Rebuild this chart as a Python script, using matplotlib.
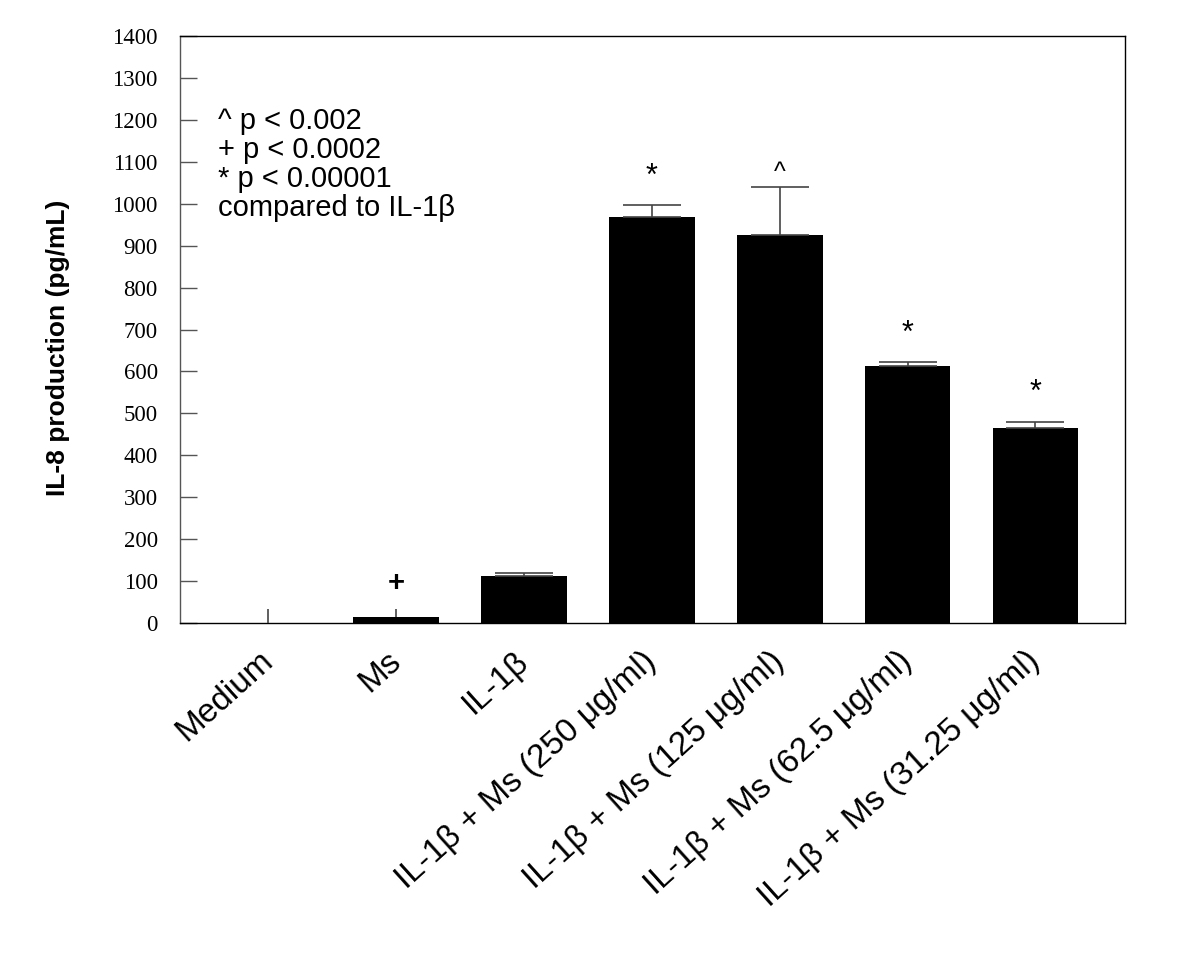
import numpy as np
import matplotlib.pyplot as plt
import matplotlib.transforms as mtransforms

categories = ['Medium', 'Ms', 'IL-1β',
              'IL-1β + Ms (250 μg/ml)', 'IL-1β + Ms (125 μg/ml)',
              'IL-1β + Ms (62.5 μg/ml)', 'IL-1β + Ms (31.25 μg/ml)']
values = [0, 14, 113, 969, 926, 612, 466]
errors = [33, 19, 6, 28, 114, 10, 14]
marks = ['', '+', '', '*', '^', '*', '*']

fig = plt.figure(figsize=(12, 9.6), dpi=100)
ax = fig.add_axes([0.15, 0.351, 0.7875, 0.6115])

x = np.arange(len(categories))
vals = np.array(values)
errs = np.array(errors)
ax.bar(x, vals, width=0.67, color='black', zorder=2)

# first two groups have bare whiskers, the rest have caps
for idx, cap in [(slice(0, 2), 0), (slice(2, None), 21)]:
    ax.errorbar(x[idx], vals[idx], yerr=[np.zeros_like(errs[idx]), errs[idx]],
                fmt='none', ecolor='#444444', elinewidth=1.2, capsize=cap,
                capthick=1.2, zorder=3)

for xi, v, e, m in zip(x, values, errors, marks):
    if not m:
        continue
    if m == '+':
        ax.text(xi, v + e + 62, m, ha='center', va='center', fontsize=21,
                fontweight='bold', family='Liberation Sans')
    elif m == '^':
        ax.text(xi, v + e + 33, m, ha='center', va='center', fontsize=18,
                family='Liberation Sans')
    else:
        ax.text(xi, v + e + 68, m, ha='center', va='center', fontsize=22,
                family='Liberation Sans')

ax.text(0.04, 0.879, '^ p < 0.002\n+ p < 0.0002\n* p < 0.00001\ncompared to IL-1β',
        transform=ax.transAxes, ha='left', va='top', fontsize=21,
        family='Liberation Sans', linespacing=1.04)

ax.set_xlim(-0.69, 6.70)
ax.set_ylim(0, 1400)
ax.set_yticks(np.arange(0, 1401, 100))
ax.set_yticklabels([str(t) for t in range(0, 1401, 100)],
                   family='Liberation Serif', fontsize=16.5)
ax.tick_params(axis='y', direction='in', length=12, width=1, color='#555555', pad=16)
ax.tick_params(axis='x', length=0, pad=16)
ax.set_xticks(x)
ax.set_xticklabels(categories, rotation=42, ha='right', rotation_mode='anchor',
                   family='Liberation Sans', fontsize=24)
shift = mtransforms.ScaledTranslation(-10 / 100, 0, fig.dpi_scale_trans)
for lbl in ax.get_xticklabels():
    lbl.set_transform(lbl.get_transform() + shift)

ax.set_ylabel('IL-8 production (pg/mL)', family='Liberation Sans', fontsize=19,
              fontweight='bold')
ax.yaxis.set_label_coords(-0.116, 0.468)

for s in ax.spines.values():
    s.set_linewidth(1.0)
ax.spines['left'].set_color('#555555')

fig.savefig('out.png', dpi=100)
